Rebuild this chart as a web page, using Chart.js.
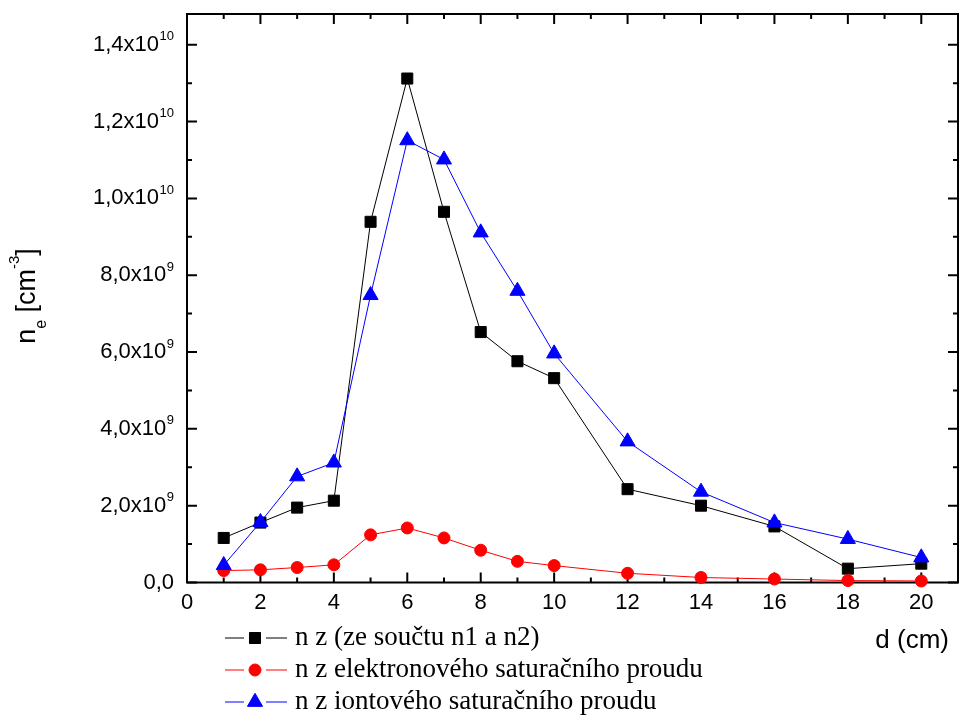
<!DOCTYPE html>
<html>
<head>
<meta charset="utf-8">
<script src="https://cdn.jsdelivr.net/npm/chart.js@4/dist/chart.umd.min.js"></script>
<style>
  html, body { margin: 0; padding: 0; background: #fff; }
  #wrap { width: 959px; height: 717px; }
</style>
</head>
<body>
<div id="wrap"><canvas id="neChart" width="959" height="717"></canvas></div>
<script>
// distance d (cm)
const distances = [1, 2, 3, 4, 5, 6, 7, 8, 9, 10, 12, 14, 16, 18, 20];

// electron density n_e [cm^-3]
const nSum = [1.16e9, 1.56e9, 1.95e9, 2.13e9, 9.39e9, 1.312e10, 9.65e9, 6.52e9, 5.76e9, 5.32e9, 2.43e9, 2.00e9, 1.46e9, 0.36e9, 0.49e9];
const nElectron = [0.31e9, 0.33e9, 0.39e9, 0.46e9, 1.24e9, 1.42e9, 1.16e9, 0.84e9, 0.55e9, 0.44e9, 0.24e9, 0.13e9, 0.09e9, 0.05e9, 0.04e9];
const nIon = [0.45e9, 1.57e9, 2.76e9, 3.12e9, 7.48e9, 1.151e10, 1.101e10, 9.11e9, 7.59e9, 5.96e9, 3.67e9, 2.36e9, 1.56e9, 1.13e9, 0.65e9];

const seriesLabels = [
  "n z (ze součtu n1 a n2)",
  "n z elektronového saturačního proudu",
  "n z iontového saturačního proudu"
];

// axis ticks
const xTickValues = [0, 2, 4, 6, 8, 10, 12, 14, 16, 18, 20];
const xMinorValues = [1, 3, 5, 7, 9, 11, 13, 15, 17, 19];
const yTickValues = [0, 2e9, 4e9, 6e9, 8e9, 1e10, 1.2e10, 1.4e10];
const yTickMantissa = ["0,0", "2,0x10", "4,0x10", "6,0x10", "8,0x10", "1,0x10", "1,2x10", "1,4x10"];
const yTickExponent = ["", "9", "9", "9", "9", "10", "10", "10"];
const yMinorValues = [1e9, 3e9, 5e9, 7e9, 9e9, 1.1e10, 1.3e10];

const SANS = "'Liberation Sans', Arial, sans-serif";
const SERIF = "'Liberation Serif', 'Times New Roman', serif";

function toPoints(ys) {
  return distances.map((d, i) => ({ x: d, y: ys[i] }));
}

const seriesStyles = [
  { color: "#000000", pointStyle: "rect", radius: 7.8 },
  { color: "#ff0000", pointStyle: "circle", radius: 6 },
  { color: "#0000ff", pointStyle: "triangle", radius: 8.7 }
];

// frame, inward ticks, tick labels, axis titles and legend
const framePlugin = {
  id: "framePlugin",
  beforeDatasetsDraw(chart) {
    const ctx = chart.ctx;
    const area = chart.chartArea;
    const xs = chart.scales.x;
    const ys = chart.scales.y;
    ctx.save();
    ctx.strokeStyle = "#000";
    ctx.lineWidth = 2;
    ctx.strokeRect(area.left, area.top, area.right - area.left, area.bottom - area.top);

    ctx.beginPath();
    xTickValues.forEach(v => {
      const px = xs.getPixelForValue(v);
      ctx.moveTo(px, area.bottom); ctx.lineTo(px, area.bottom - 10);
      ctx.moveTo(px, area.top); ctx.lineTo(px, area.top + 10);
    });
    xMinorValues.forEach(v => {
      const px = xs.getPixelForValue(v);
      ctx.moveTo(px, area.bottom); ctx.lineTo(px, area.bottom - 5);
      ctx.moveTo(px, area.top); ctx.lineTo(px, area.top + 5);
    });
    yTickValues.forEach(v => {
      const py = ys.getPixelForValue(v);
      ctx.moveTo(area.left, py); ctx.lineTo(area.left + 10, py);
      ctx.moveTo(area.right, py); ctx.lineTo(area.right - 10, py);
    });
    yMinorValues.forEach(v => {
      const py = ys.getPixelForValue(v);
      ctx.moveTo(area.left, py); ctx.lineTo(area.left + 5, py);
      ctx.moveTo(area.right, py); ctx.lineTo(area.right - 5, py);
    });
    ctx.stroke();
    ctx.restore();
  },
  afterDraw(chart) {
    const ctx = chart.ctx;
    const xs = chart.scales.x;
    const ys = chart.scales.y;
    ctx.save();
    ctx.fillStyle = "#000";

    // x tick labels
    ctx.font = "22px " + SANS;
    ctx.textAlign = "center";
    ctx.textBaseline = "middle";
    xTickValues.forEach(v => {
      ctx.fillText(String(v), xs.getPixelForValue(v), 603);
    });

    // y tick labels with superscript exponent
    const rightEdge = 174;
    yTickValues.forEach((v, i) => {
      const py = ys.getPixelForValue(v);
      ctx.font = "13px " + SANS;
      const expW = ctx.measureText(yTickExponent[i]).width;
      ctx.textAlign = "right";
      ctx.textBaseline = "middle";
      if (yTickExponent[i]) {
        ctx.fillText(yTickExponent[i], rightEdge, py - 8);
      }
      ctx.font = "22px " + SANS;
      ctx.fillText(yTickMantissa[i], rightEdge - expW - (expW ? 0.5 : 0), py);
    });

    // x title
    ctx.font = "26px " + SANS;
    ctx.textAlign = "right";
    ctx.textBaseline = "middle";
    ctx.fillText("d (cm)", 949, 641);

    // y title n_e [cm^-3]
    ctx.translate(35, 296);
    ctx.rotate(-Math.PI / 2);
    ctx.textAlign = "left";
    ctx.textBaseline = "alphabetic";
    const parts = [
      { t: "n", size: 27, dy: 0 },
      { t: "e", size: 16, dy: 11 },
      { t: " [cm", size: 27, dy: 0 },
      { t: "-3", size: 15, dy: -16 },
      { t: "]", size: 27, dy: 0 }
    ];
    let total = 0;
    parts.forEach(p => { ctx.font = p.size + "px " + SANS; p.w = ctx.measureText(p.t).width; total += p.w; });
    let cx = -total / 2;
    parts.forEach(p => {
      ctx.font = p.size + "px " + SANS;
      ctx.fillText(p.t, cx, p.dy);
      cx += p.w;
    });
    ctx.restore();

    // legend
    ctx.save();
    const rowsY = [638, 670, 702];
    seriesLabels.forEach((label, i) => {
      const st = seriesStyles[i];
      const y = rowsY[i];
      ctx.strokeStyle = st.color;
      ctx.lineWidth = 1;
      ctx.beginPath();
      ctx.moveTo(225, y); ctx.lineTo(244, y);
      ctx.moveTo(266, y); ctx.lineTo(287, y);
      ctx.stroke();
      ctx.fillStyle = st.color;
      ctx.strokeStyle = st.color;
      Chart.helpers.drawPoint(ctx, { pointStyle: st.pointStyle, radius: st.radius, rotation: 0, borderWidth: 1 }, 255, y);
      ctx.fillStyle = "#000";
      ctx.font = "27px " + SERIF;
      ctx.textAlign = "left";
      ctx.textBaseline = "middle";
      ctx.fillText(label, 295, y);
    });
    ctx.restore();
  }
};

const allSeries = [nSum, nElectron, nIon];
const datasets = allSeries.map((ys, i) => ({
  label: seriesLabels[i],
  data: toPoints(ys),
  borderColor: seriesStyles[i].color,
  backgroundColor: seriesStyles[i].color,
  borderWidth: 1,
  pointStyle: seriesStyles[i].pointStyle,
  pointRadius: seriesStyles[i].radius,
  pointBorderWidth: 1,
  tension: 0,
  clip: false,
  order: 3 - i
}));

new Chart(document.getElementById("neChart").getContext("2d"), {
  type: "line",
  data: { datasets: datasets },
  options: {
    responsive: false,
    animation: false,
    devicePixelRatio: 1,
    layout: { autoPadding: false, padding: { left: 187, top: 14, right: 1, bottom: 134.5 } },
    plugins: {
      legend: { display: false },
      tooltip: { enabled: false }
    },
    scales: {
      x: { type: "linear", min: 0, max: 21, display: false },
      y: { type: "linear", min: 0, max: 1.48e10, display: false }
    }
  },
  plugins: [framePlugin]
});
</script>
</body>
</html>
